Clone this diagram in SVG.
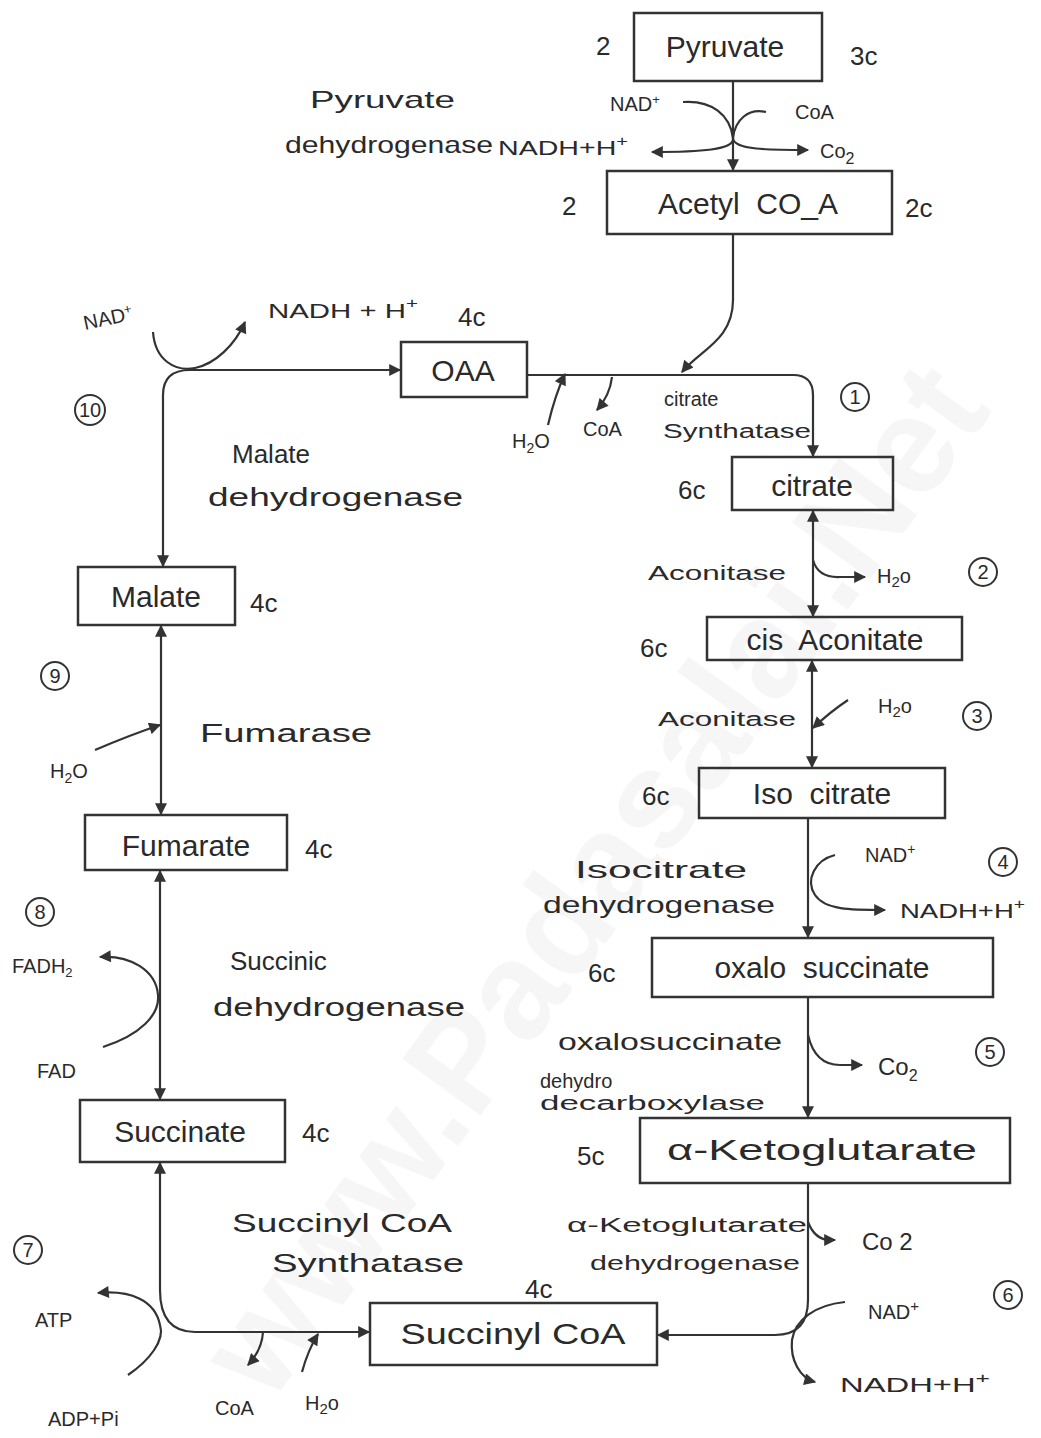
<svg xmlns="http://www.w3.org/2000/svg" width="1041" height="1438" viewBox="0 0 1041 1438">
<style>
text{font-family:"Liberation Sans","DejaVu Sans",sans-serif;fill:#2a2a2a}
.box{fill:none;stroke:#333;stroke-width:2.5}
.lbl{font-size:30px;text-anchor:middle}
.cn{font-size:26px}
.enz{font-size:24px}
.sm{font-size:20px}
.ln{fill:none;stroke:#333;stroke-width:2.2}
.circ{fill:none;stroke:#333;stroke-width:2}
.num{font-size:20px;text-anchor:middle}
.wm{font-size:140px;fill:#f6f6f6;font-weight:bold}
</style>
<defs>
<marker id="ah" viewBox="0 0 10 10" refX="9" refY="5" markerWidth="13" markerHeight="12" orient="auto-start-reverse" markerUnits="userSpaceOnUse">
<path d="M0,0 L10,5 L0,10 z" fill="#333"/>
</marker>
</defs>
<rect width="1041" height="1438" fill="#fff"/>
<text class="wm" transform="translate(270,1405) rotate(-54)" textLength="1230" lengthAdjust="spacingAndGlyphs">www.Padasalai.Net</text>

<g id="connectors">
<line class="ln" x1="733" y1="81" x2="733" y2="170" marker-end="url(#ah)"/>
<path class="ln" d="M683,102 C712,100 730,115 733,138 C735,150 700,152 652,152" marker-end="url(#ah)"/>
<path class="ln" d="M766,112 C748,108 735,120 733,138 C733,150 770,150 808,150" marker-end="url(#ah)"/>
<path class="ln" d="M733,234 L733,300 C733,340 700,350 682,372" marker-end="url(#ah)"/>
<path class="ln" d="M527,375 L793,375 Q813,375 813,395 L813,456" marker-end="url(#ah)"/>
<path class="ln" d="M548,425 Q555,395 565,374" marker-end="url(#ah)"/>
<path class="ln" d="M612,377 Q610,395 597,410" marker-end="url(#ah)"/>
<line class="ln" x1="813" y1="511" x2="813" y2="616" marker-start="url(#ah)" marker-end="url(#ah)"/>
<path class="ln" d="M813,560 Q818,578 840,577 L865,577" marker-end="url(#ah)"/>
<line class="ln" x1="812" y1="661" x2="812" y2="767" marker-start="url(#ah)" marker-end="url(#ah)"/>
<path class="ln" d="M848,700 Q830,712 813,728" marker-end="url(#ah)"/>
<line class="ln" x1="808" y1="818" x2="808" y2="937" marker-end="url(#ah)"/>
<path class="ln" d="M835,855 C815,860 805,880 815,895 C825,910 850,910 885,910" marker-end="url(#ah)"/>
<line class="ln" x1="808" y1="997" x2="808" y2="1117" marker-end="url(#ah)"/>
<path class="ln" d="M808,1035 Q815,1065 840,1065 L862,1065" marker-end="url(#ah)"/>
<path class="ln" d="M808,1183 L808,1300 Q808,1335 775,1335 L658,1335" marker-end="url(#ah)"/>
<path class="ln" d="M808,1222 Q815,1240 830,1240 L835,1240" marker-end="url(#ah)"/>
<path class="ln" d="M845,1302 C815,1305 795,1320 792,1340 C790,1360 800,1378 815,1382" marker-end="url(#ah)"/>
<path class="ln" d="M160,1163 L160,1290 Q160,1332 195,1332 L369,1332" marker-start="url(#ah)" marker-end="url(#ah)"/>
<path class="ln" d="M128,1375 C150,1360 165,1340 160,1325 C155,1300 130,1290 98,1293" marker-end="url(#ah)"/>
<path class="ln" d="M263,1332 Q262,1350 248,1365" marker-end="url(#ah)"/>
<path class="ln" d="M302,1372 Q308,1350 318,1334" marker-end="url(#ah)"/>
<line class="ln" x1="160" y1="871" x2="160" y2="1099" marker-start="url(#ah)" marker-end="url(#ah)"/>
<path class="ln" d="M103,1047 C140,1035 160,1015 158,995 C156,970 130,955 100,957" marker-end="url(#ah)"/>
<line class="ln" x1="161" y1="626" x2="161" y2="814" marker-start="url(#ah)" marker-end="url(#ah)"/>
<path class="ln" d="M95,750 Q130,735 160,725" marker-end="url(#ah)"/>
<path class="ln" d="M163,566 L163,395 Q163,370 190,370 L400,370" marker-start="url(#ah)" marker-end="url(#ah)"/>
<path class="ln" d="M153,332 C155,360 175,372 195,368 C215,364 235,345 245,322" marker-end="url(#ah)"/>
</g>

<g id="pyruvate">
<rect class="box" x="634" y="13" width="188" height="68"/>
<text class="lbl" x="725" y="57" font-size="32">Pyruvate</text>
<text class="cn" x="596" y="55">2</text>
<text class="cn" x="850" y="65">3c</text>
</g>
<g id="pdh-labels">
<text class="enz" x="310" y="108" textLength="145" lengthAdjust="spacingAndGlyphs">Pyruvate</text>
<text class="enz" x="285" y="153" textLength="208" lengthAdjust="spacingAndGlyphs">dehydrogenase</text>
<text class="sm" x="498" y="155" textLength="130" lengthAdjust="spacingAndGlyphs">NADH+H<tspan font-size="14" dy="-9">+</tspan></text>
<text class="sm" x="610" y="111" font-size="17">NAD<tspan font-size="13" dy="-7">+</tspan></text>
<text class="sm" x="795" y="119">CoA</text>
<text class="sm" x="820" y="158" font-size="24">Co<tspan font-size="16" dy="6">2</tspan></text>
</g>
<g id="acetyl-coa">
<rect class="box" x="607" y="171" width="285" height="63"/>
<text class="lbl" x="748" y="214" xml:space="preserve">Acetyl  CO_A</text>
<text class="cn" x="562" y="215">2</text>
<text class="cn" x="905" y="217">2c</text>
</g>
<g id="oaa">
<rect class="box" x="401" y="342" width="126" height="55"/>
<text class="lbl" x="463" y="381" font-size="28">OAA</text>
<text class="cn" x="458" y="326">4c</text>
</g>
<g id="step1">
<text class="sm" x="512" y="448">H<tspan font-size="14" dy="5">2</tspan><tspan dy="-5">O</tspan></text>
<text class="sm" x="583" y="436">CoA</text>
<text class="sm" x="664" y="406" font-size="22">citrate</text>
<text class="sm" x="663" y="438" font-size="22" textLength="148" lengthAdjust="spacingAndGlyphs">Synthatase</text>
<circle class="circ" cx="855" cy="397" r="14"/><text class="num" x="855" y="404">1</text>
</g>
<g id="citrate">
<rect class="box" x="732" y="457" width="161" height="53"/>
<text class="lbl" x="812" y="496">citrate</text>
<text class="cn" x="678" y="499">6c</text>
</g>
<g id="step2">
<text class="sm" x="648" y="580" font-size="22" textLength="138" lengthAdjust="spacingAndGlyphs">Aconitase</text>
<text class="sm" x="877" y="583" font-size="22">H<tspan font-size="15" dy="4">2</tspan><tspan dy="-4">o</tspan></text>
<circle class="circ" cx="983" cy="572" r="14"/><text class="num" x="983" y="579">2</text>
</g>
<g id="cis-aconitate">
<rect class="box" x="707" y="617" width="255" height="43"/>
<text class="lbl" x="835" y="650" font-size="28" xml:space="preserve">cis  Aconitate</text>
<text class="cn" x="640" y="657">6c</text>
</g>
<g id="step3">
<text class="sm" x="658" y="726" font-size="22" textLength="138" lengthAdjust="spacingAndGlyphs">Aconitase</text>
<text class="sm" x="878" y="713" font-size="22">H<tspan font-size="15" dy="4">2</tspan><tspan dy="-4">o</tspan></text>
<circle class="circ" cx="977" cy="716" r="14"/><text class="num" x="977" y="723">3</text>
</g>
<g id="iso-citrate">
<rect class="box" x="699" y="768" width="246" height="50"/>
<text class="lbl" x="822" y="804" font-size="28" xml:space="preserve">Iso  citrate</text>
<text class="cn" x="642" y="805">6c</text>
</g>
<g id="step4">
<text class="enz" x="575" y="878" textLength="172" lengthAdjust="spacingAndGlyphs">Isocitrate</text>
<text class="enz" x="543" y="913" textLength="232" lengthAdjust="spacingAndGlyphs">dehydrogenase</text>
<text class="sm" x="865" y="862">NAD<tspan font-size="14" dy="-8">+</tspan></text>
<text class="sm" x="900" y="918" textLength="125" lengthAdjust="spacingAndGlyphs">NADH+H<tspan font-size="14" dy="-9">+</tspan></text>
<circle class="circ" cx="1003" cy="862" r="14"/><text class="num" x="1003" y="869">4</text>
</g>
<g id="oxalo-succinate">
<rect class="box" x="652" y="938" width="341" height="59"/>
<text class="lbl" x="822" y="978" xml:space="preserve">oxalo  succinate</text>
<text class="cn" x="588" y="982">6c</text>
</g>
<g id="step5">
<text class="enz" x="558" y="1050" textLength="224" lengthAdjust="spacingAndGlyphs">oxalosuccinate</text>
<text class="sm" x="540" y="1088" font-size="21">dehydro</text>
<text class="sm" x="540" y="1110" font-size="21" textLength="225" lengthAdjust="spacingAndGlyphs">decarboxylase</text>
<text class="enz" x="878" y="1075">Co<tspan font-size="16" dy="6">2</tspan></text>
<circle class="circ" cx="990" cy="1052" r="14"/><text class="num" x="990" y="1059">5</text>
</g>
<g id="alpha-ketoglutarate">
<rect class="box" x="640" y="1118" width="370" height="65"/>
<text class="lbl" x="822" y="1160" textLength="310" lengthAdjust="spacingAndGlyphs">α-Ketoglutarate</text>
<text class="cn" x="577" y="1165">5c</text>
</g>
<g id="step6">
<text class="sm" x="567" y="1232" font-size="22" textLength="240" lengthAdjust="spacingAndGlyphs">α-Ketoglutarate</text>
<text class="sm" x="590" y="1270" font-size="22" textLength="210" lengthAdjust="spacingAndGlyphs">dehydrogenase</text>
<text class="enz" x="862" y="1250">Co 2</text>
<text class="sm" x="868" y="1319" font-size="22">NAD<tspan font-size="15" dy="-8">+</tspan></text>
<text class="sm" x="840" y="1392" font-size="22" textLength="150" lengthAdjust="spacingAndGlyphs">NADH+H<tspan font-size="15" dy="-9">+</tspan></text>
<circle class="circ" cx="1008" cy="1295" r="14"/><text class="num" x="1008" y="1302">6</text>
</g>
<g id="succinyl-coa">
<rect class="box" x="370" y="1303" width="287" height="62"/>
<text class="lbl" x="513" y="1344" font-size="28" textLength="225" lengthAdjust="spacingAndGlyphs">Succinyl CoA</text>
<text class="cn" x="525" y="1298" font-size="24">4c</text>
</g>
<g id="step7">
<text class="cn" x="232" y="1232" textLength="220" lengthAdjust="spacingAndGlyphs">Succinyl CoA</text>
<text class="cn" x="272" y="1272" textLength="192" lengthAdjust="spacingAndGlyphs">Synthatase</text>
<text class="sm" x="35" y="1327" font-size="22">ATP</text>
<text class="sm" x="48" y="1426" font-size="22">ADP+Pi</text>
<text class="sm" x="215" y="1415" font-size="22">CoA</text>
<text class="sm" x="305" y="1410" font-size="22">H<tspan font-size="15" dy="4">2</tspan><tspan dy="-4">o</tspan></text>
<circle class="circ" cx="28" cy="1250" r="14"/><text class="num" x="28" y="1257">7</text>
</g>
<g id="succinate">
<rect class="box" x="80" y="1100" width="205" height="62"/>
<text class="lbl" x="180" y="1142" font-size="28">Succinate</text>
<text class="cn" x="302" y="1142">4c</text>
</g>
<g id="step8">
<text class="cn" x="230" y="970">Succinic</text>
<text class="cn" x="213" y="1016" textLength="252" lengthAdjust="spacingAndGlyphs">dehydrogenase</text>
<text class="sm" x="12" y="973" font-size="18">FADH<tspan font-size="13" dy="4">2</tspan></text>
<text class="sm" x="37" y="1078" font-size="18">FAD</text>
<circle class="circ" cx="40" cy="912" r="14"/><text class="num" x="40" y="919">8</text>
</g>
<g id="fumarate">
<rect class="box" x="85" y="815" width="202" height="55"/>
<text class="lbl" x="186" y="856">Fumarate</text>
<text class="cn" x="305" y="858">4c</text>
</g>
<g id="step9">
<text class="cn" x="200" y="742" font-size="28" textLength="172" lengthAdjust="spacingAndGlyphs">Fumarase</text>
<text class="sm" x="50" y="778">H<tspan font-size="14" dy="5">2</tspan><tspan dy="-5">O</tspan></text>
<circle class="circ" cx="55" cy="676" r="14"/><text class="num" x="55" y="683">9</text>
</g>
<g id="malate">
<rect class="box" x="78" y="567" width="157" height="58"/>
<text class="lbl" x="156" y="607" font-size="28">Malate</text>
<text class="cn" x="250" y="612">4c</text>
</g>
<g id="step10">
<text class="cn" x="232" y="463" font-size="28">Malate</text>
<text class="cn" x="208" y="506" font-size="28" textLength="255" lengthAdjust="spacingAndGlyphs">dehydrogenase</text>
<text class="sm" x="85" y="330" font-size="17" transform="rotate(-12 85 330)">NAD<tspan font-size="13" dy="-7">+</tspan></text>
<text class="sm" x="268" y="318" textLength="150" lengthAdjust="spacingAndGlyphs">NADH + H<tspan font-size="14" dy="-10">+</tspan></text>
<circle class="circ" cx="90" cy="410" r="15"/><text class="num" x="90" y="417">10</text>
</g>
</svg>
